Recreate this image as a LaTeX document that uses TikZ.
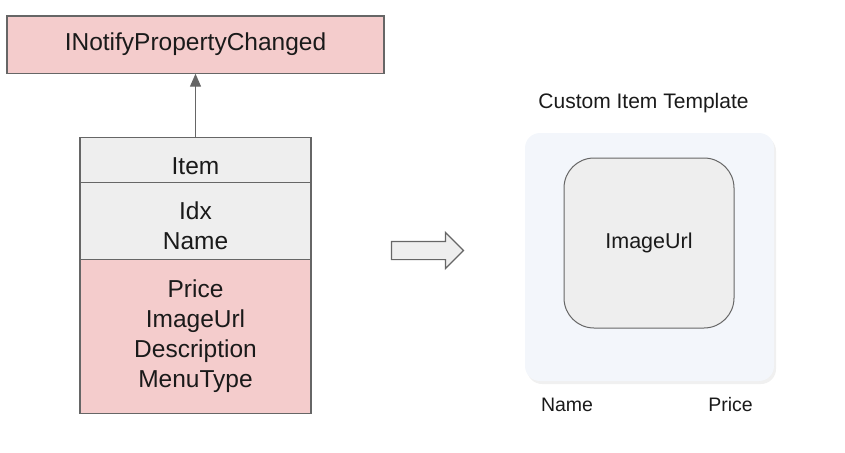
\documentclass[tikz,border=0pt]{standalone}
\usepackage{fontspec}
\setmainfont{Liberation Sans}
\usetikzlibrary{arrows.meta, positioning, shapes.arrows, shadows}
\definecolor{iface}{HTML}{F4CCCC}
\definecolor{plain}{HTML}{EEEEEE}
\definecolor{edge} {HTML}{666666}
\definecolor{card} {HTML}{F3F6FB}
\definecolor{ink}  {HTML}{1A1A1A}

\tikzset{
  classpart/.style={draw=edge, line width=1.2pt, inner sep=0pt,
    minimum width=231pt, anchor=north},
  classtext/.style={text=ink, align=center,
    font=\fontsize{24.5}{30}\selectfont},
  caption/.style={text=ink, font=\fontsize{19.5}{23}\selectfont}
}

\begin{document}
\begin{tikzpicture}[x=1pt, y=-1pt]
    % interface on top
    \node[classpart, classtext, fill=iface, minimum width=377pt,
      minimum height=57pt] (iface) at (195.5,15.5) {INotifyPropertyChanged};

    % the Item class, three parts
    \node[classpart, fill=plain, minimum height=45pt]  (head)  at (195.5,137) {};
    \node[classpart, fill=plain, minimum height=77pt]  (keys)  at (195.5,182) {};
    \node[classpart, fill=iface, minimum height=154pt] (props) at (195.5,259) {};
    \node[classtext] (headtxt)  at (195.5,166) {Item};
    \node[classtext] (keystxt)  at (195.5,226) {Idx\\Name};
    \node[classtext] (propstxt) at (195.5,336) {Price\\ImageUrl\\Description\\MenuType};

    \draw[edge, line width=1.2pt, -{Triangle[length=13pt, width=11pt]}]
      (head.north) -- (iface.south);

    % block arrow between the two halves
    \node[single arrow, draw=edge, fill=plain, line width=1.2pt,
      inner xsep=0pt, inner ysep=8.5pt, minimum height=72pt,
      single arrow head extend=9pt] (goes) at (423,250.5) {};

    % the template card
    \node[text=ink, font=\fontsize{21}{25}\selectfont] (title) at (643.5,103)
      {Custom Item Template};
    \node[fill=card, rounded corners=15pt, minimum width=249pt,
      minimum height=248pt,
      drop shadow={opacity=0.12, shadow xshift=2pt, shadow yshift=-3pt}]
      (card) at (649.5,257) {};
    \node[draw=edge, fill=plain, line width=1pt, rounded corners=30pt,
      minimum size=170pt, text=ink, font=\fontsize{21.5}{26}\selectfont]
      (thumb) at (649,243) {ImageUrl};
    \node[caption] (name)  at (567,404.5)   {Name};
    \node[caption] (price) at (730.5,404.5) {Price};

    \useasboundingbox (0,0) rectangle (845,452);
\end{tikzpicture}
\end{document}
